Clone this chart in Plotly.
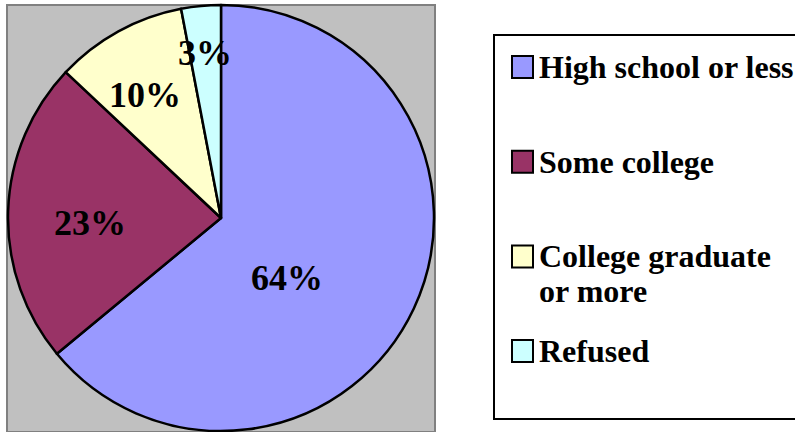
import math
import plotly.graph_objects as go

labels = ["High school or less", "Some college", "College graduate<br>or more", "Refused"]
values = [64, 23, 10, 3]
colors = ["#9999FF", "#993366", "#FFFFCC", "#CCFFFF"]
# label placement style (radius fraction, angular shift in degrees)
label_r = [0.42, 0.615, 0.68, 0.78]
label_shift = [17, -4, -3, 0]

W, H = 795, 432
FONT = "Liberation Serif, Times New Roman, serif"
CX, CY, R = 221, 218, 213

def px(x):
    return x / W

def py(y):
    return 1 - y / H

fig = go.Figure()
fig.add_trace(go.Pie(
    labels=labels, values=values, sort=False, direction="clockwise", rotation=0,
    marker=dict(colors=colors, line=dict(color="black", width=2.5)),
    textinfo="none",
    domain=dict(x=[px(CX - R), px(CX + R)], y=[py(CY + R), py(CY - R)]),
    showlegend=False, hoverinfo="label+percent",
))

shapes = [
    dict(type="rect", xref="paper", yref="paper", x0=px(7), x1=px(435), y0=py(432), y1=py(5),
         fillcolor="#C0C0C0", line=dict(color="#808080", width=2), layer="below"),
    dict(type="rect", xref="paper", yref="paper", x0=px(494), x1=px(800), y0=py(419), y1=py(35),
         fillcolor="white", line=dict(color="black", width=2), layer="below"),
]
annotations = []

total = sum(values)
cum = 0
for v, rf, sh in zip(values, label_r, label_shift):
    mid = (cum + v / 2) / total * 360 + sh
    cum += v
    a = math.radians(mid)
    x = CX + rf * R * math.sin(a)
    y = CY - rf * R * math.cos(a)
    annotations.append(dict(xref="paper", yref="paper", x=px(x), y=py(y),
                            xanchor="center", yanchor="middle", showarrow=False,
                            text="<b>%d%%</b>" % round(100 * v / total),
                            font=dict(family=FONT, size=36, color="black")))

top0, step = 56, 94.7
for i, (lab, col) in enumerate(zip(labels, colors)):
    t = top0 + i * step
    shapes.append(dict(type="rect", xref="paper", yref="paper", x0=px(512), x1=px(533),
                       y0=py(t + 22), y1=py(t), fillcolor=col, line=dict(color="black", width=2)))
    for j, line in enumerate(lab.split("<br>")):
        annotations.append(dict(xref="paper", yref="paper", x=px(537), y=py(t + 11 + j * 35),
                                xanchor="left", yanchor="middle", showarrow=False,
                                text="<b>" + line + "</b>",
                                font=dict(family=FONT, size=32, color="black")))

fig.update_layout(
    width=W, height=H, margin=dict(l=0, r=0, t=0, b=0),
    paper_bgcolor="white", plot_bgcolor="white",
    shapes=shapes, annotations=annotations,
)
fig.write_html("out.html", config={"displayModeBar": False},
               post_script="document.body.style.margin='0';")
